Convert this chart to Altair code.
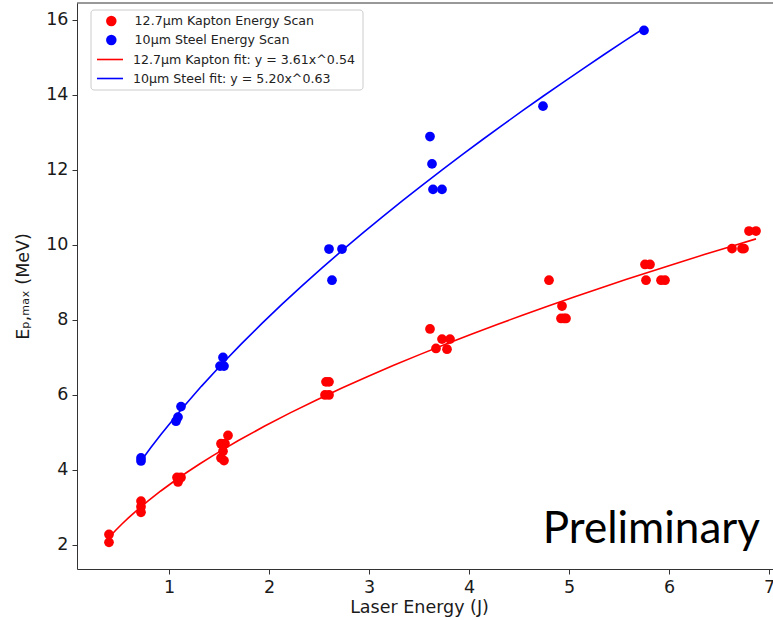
import altair as alt
import pandas as pd

# ---- data ----
kapton_x = [0.40, 0.40, 0.72, 0.72, 0.72, 1.08, 1.10, 1.12, 1.09,
            1.52, 1.56, 1.54, 1.52, 1.55, 1.59, 2.57, 2.60, 2.56, 2.60,
            3.61, 3.73, 3.81, 3.67, 3.78, 4.80, 4.93, 4.92, 4.95, 4.97,
            5.76, 5.81, 5.77, 5.92, 5.96, 6.63, 6.73, 6.75, 6.80, 6.87]
kapton_y = [2.28, 2.07, 3.17, 3.02, 2.87, 3.80, 3.76, 3.80, 3.68,
            4.70, 4.70, 4.50, 4.32, 4.25, 4.92, 6.35, 6.35, 6.00, 6.00,
            7.76, 7.49, 7.49, 7.24, 7.22, 9.06, 8.37, 8.04, 8.04, 8.04,
            9.48, 9.48, 9.06, 9.06, 9.06, 9.90, 9.90, 9.90, 10.37, 10.37]
steel_x = [0.72, 0.72, 1.12, 1.09, 1.07, 1.54, 1.51, 1.55,
           2.60, 2.73, 2.63, 3.61, 3.63, 3.64, 3.73, 4.74, 5.75]
steel_y = [4.32, 4.24, 5.69, 5.41, 5.30, 7.00, 6.77, 6.77,
           9.89, 9.89, 9.06, 12.89, 12.16, 11.48, 11.48, 13.70, 15.72]

scan_labels = ["12.7µm Kapton Energy Scan", "10µm Steel Energy Scan"]
fit_labels = ["12.7µm Kapton fit: y = 3.61x^0.54", "10µm Steel fit: y = 5.20x^0.63"]
series_colors = ["#ff0000", "#0000ff"]
x_ticks = [1, 2, 3, 4, 5, 6, 7]
y_ticks = [2, 4, 6, 8, 10, 12, 14, 16]
note_text = ["Preliminary"]
note_x = [6.91]
note_y = [2.05]

rows = []
for xv, yv in zip(kapton_x, kapton_y):
    rows.append({"x": xv, "y": yv, "scan": scan_labels[0], "fit": fit_labels[0]})
for xv, yv in zip(steel_x, steel_y):
    rows.append({"x": xv, "y": yv, "scan": scan_labels[1], "fit": fit_labels[1]})
df = pd.DataFrame(rows)
note_df = pd.DataFrame({"t": note_text, "x": note_x, "y": note_y})

W, H = 696, 566

x_enc = alt.X("x:Q", scale=alt.Scale(domain=[0.08, 7.04], nice=False, zero=False),
              axis=alt.Axis(values=x_ticks, title="Laser Energy (J)", format="d",
                            titleX=342, titleY=38,
                            titleBaseline="middle", titleAlign="center"))
y_enc = alt.Y("y:Q", scale=alt.Scale(domain=[1.36, 16.45], nice=False, zero=False),
              axis=alt.Axis(values=y_ticks, title="Eₚ,ₘₐₓ (MeV)", format="d",
                            titleX=-54, titleY=283, titleAngle=-90,
                            titleBaseline="middle", titleAlign="center"))

legend_common = dict(
    orient="none", title=None, labelFont="DejaVu Sans", labelFontSize=12.6,
    labelColor="#222222", padding=0, rowPadding=0, clipHeight=19, labelLimit=400,
)
scan_legend = alt.Legend(legendX=19, legendY=8.5, symbolType="circle",
                         symbolSize=110, symbolOffset=9, labelOffset=17,
                         symbolStrokeWidth=0, **legend_common)
fit_legend = alt.Legend(legendX=19, legendY=47, symbolType="stroke",
                        symbolSize=676, symbolOffset=0, labelOffset=9,
                        symbolStrokeWidth=1.6, **legend_common)

points = alt.Chart(df).mark_point(filled=True, size=95, opacity=1).encode(
    x=x_enc, y=y_enc,
    fill=alt.Fill("scan:N", scale=alt.Scale(domain=scan_labels, range=series_colors),
                  legend=scan_legend),
)

fits = alt.Chart(df).transform_regression(
    "x", "y", method="pow", groupby=["fit"]
).mark_line(strokeWidth=1.6).encode(
    x="x:Q", y="y:Q",
    stroke=alt.Stroke("fit:N", scale=alt.Scale(domain=fit_labels, range=series_colors),
                      legend=fit_legend),
)

legend_box = alt.Chart(note_df).mark_rect(
    fill="white", stroke="#cccccc", strokeWidth=1, cornerRadius=3
).encode(x=alt.value(14), x2=alt.value(286), y=alt.value(7), y2=alt.value(87))

top_frame = alt.Chart(note_df).mark_rule(color="#333333", strokeWidth=1).encode(
    x=alt.value(0), x2=alt.value(W), y=alt.value(0)
)

note = alt.Chart(note_df).mark_text(
    font="Lato", fontSize=44, align="right", baseline="alphabetic", color="black"
).encode(x="x:Q", y="y:Q", text="t:N")

chart = alt.layer(fits, points, legend_box, top_frame, note).properties(
    width=W, height=H,
    background="white",
    autosize=alt.AutoSizeParams(type="none"),
    padding={"left": 77, "top": 3, "right": 0, "bottom": 51},
).resolve_scale(fill="independent", stroke="independent").configure_view(
    stroke=None
).configure_axis(
    grid=False, domainColor="#333333", domainWidth=1, tickColor="#333333",
    tickSize=5, tickWidth=1, labelFont="DejaVu Sans", labelFontSize=17.5,
    labelColor="#1a1a1a", labelPadding=4, titleFont="DejaVu Sans",
    titleFontSize=17.5, titleFontWeight="normal", titleColor="#1a1a1a",
)

chart.save("out.html", embed_options={"renderer": "svg", "actions": False})
